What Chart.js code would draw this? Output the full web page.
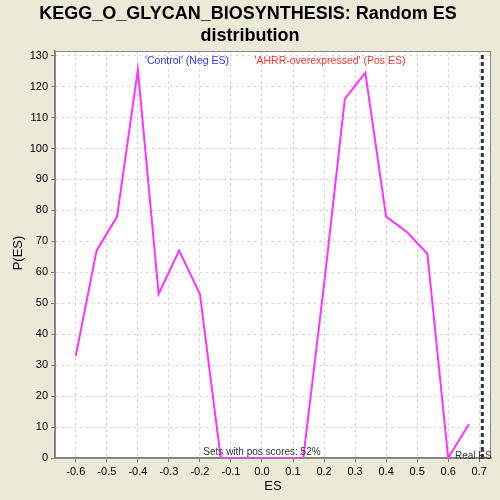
<!DOCTYPE html>
<html>
<head>
<meta charset="utf-8">
<script src="https://cdn.jsdelivr.net/npm/chart.js@4/dist/chart.umd.min.js"></script>
<style>
  html, body { margin: 0; padding: 0; background: #ECE9D8; }
  #wrap { width: 500px; height: 500px; }
</style>
</head>
<body>
<div id="wrap"><canvas id="c" width="500" height="500"></canvas></div>
<script>
// values
const esValues = [-0.6, -0.533, -0.467, -0.4, -0.333, -0.267, -0.2, -0.133, -0.067, 0.0,
                  0.067, 0.133, 0.2, 0.267, 0.333, 0.4, 0.467, 0.533, 0.6, 0.667];
const pValues = [33, 67, 78, 125.5, 53, 67, 53, 0, 0, 0,
                 0, 0, 56, 116, 124.5, 78, 73, 66, 0, 11];
const realES = 0.71;
const titleLines = ['KEGG_O_GLYCAN_BIOSYNTHESIS: Random ES', 'distribution'];
const negLabel = "'Control' (Neg ES)";
const posLabel = "'AHRR-overexpressed' (Pos ES)";
const posNote = 'Sets with pos scores: 52%';

const FONT = '"Liberation Sans", Arial, sans-serif';

const textPlugin = {
    id: 'texts',
    beforeDraw(chart) {
        const a = chart.chartArea;
        chart.ctx.save();
        chart.ctx.fillStyle = '#fff';
        chart.ctx.fillRect(a.left, a.top, a.right - a.left, a.bottom - a.top);
        chart.ctx.restore();
    },
    afterDraw(chart) {
        const ctx = chart.ctx;
        const a = chart.chartArea;
        ctx.save();
        // frame round the plot
        ctx.strokeStyle = '#888';
        ctx.lineWidth = 1;
        ctx.strokeRect(a.left + 0.5, a.top + 0.5, a.right - a.left - 1, a.bottom - a.top);

        ctx.textAlign = 'center';
        ctx.textBaseline = 'middle';
        ctx.fillStyle = '#000';
        ctx.font = 'bold 18px ' + FONT;
        ctx.fillText(titleLines[0], 248, 14);
        ctx.fillText(titleLines[1], 250, 36);

        ctx.font = '10.5px ' + FONT;
        ctx.fillStyle = '#3333FF';
        ctx.fillText(negLabel, 187, 61);
        ctx.fillStyle = '#FF3333';
        ctx.fillText(posLabel, 330, 61);
        ctx.fillStyle = '#333';
        ctx.font = '10px ' + FONT;
        ctx.fillText(posNote, 262, 452);
        ctx.textAlign = 'left';
        ctx.fillText('Real ES', 455, 456);

        ctx.fillStyle = '#000';
        ctx.textAlign = 'center';
        ctx.font = '13px ' + FONT;
        ctx.fillText('ES', 273, 486);
        ctx.translate(18, 253);
        ctx.rotate(-Math.PI / 2);
        ctx.fillText('P(ES)', 0, 0);
        ctx.restore();
    }
};

new Chart(document.getElementById('c'), {
    type: 'line',
    data: {
        datasets: [{
            data: esValues.map((x, i) => ({ x: x, y: pValues[i] })),
            borderColor: '#FF33FF',
            borderWidth: 2,
            pointRadius: 0,
            tension: 0
        }, {
            data: [{ x: realES, y: 0 }, { x: realES, y: 131.5 }],
            borderColor: '#333',
            borderWidth: 3,
            borderDash: [4, 3],
            pointRadius: 0
        }]
    },
    options: {
        responsive: false,
        animation: false,
        layout: { padding: { top: 51, right: 9, left: 0, bottom: 0 } },
        plugins: { legend: { display: false }, tooltip: { enabled: false } },
        scales: {
            x: {
                type: 'linear',
                min: -0.667,
                max: 0.738,
                afterFit(s) { s.height = 42; },
                ticks: {
                    stepSize: 0.1,
                    includeBounds: false,
                    color: '#000',
                    font: { family: FONT, size: 11 },
                    padding: 3,
                    maxRotation: 0,
                    callback: v => (Math.abs(v) < 1e-9 ? 0 : v).toFixed(1)
                },
                grid: { color: '#d8d8d8', tickColor: '#777', tickLength: 4 },
                border: { color: '#808080', width: 1.5, dash: [3, 3] }
            },
            y: {
                min: 0,
                max: 131.5,
                afterFit(s) { s.width = 55; },
                ticks: {
                    stepSize: 10,
                    includeBounds: false,
                    color: '#000',
                    font: { family: FONT, size: 11 },
                    padding: 3
                },
                grid: { color: '#d8d8d8', tickColor: '#777', tickLength: 4 },
                border: { color: '#808080', width: 1.5, dash: [3, 3] }
            }
        }
    },
    plugins: [textPlugin]
});
</script>
</body>
</html>
